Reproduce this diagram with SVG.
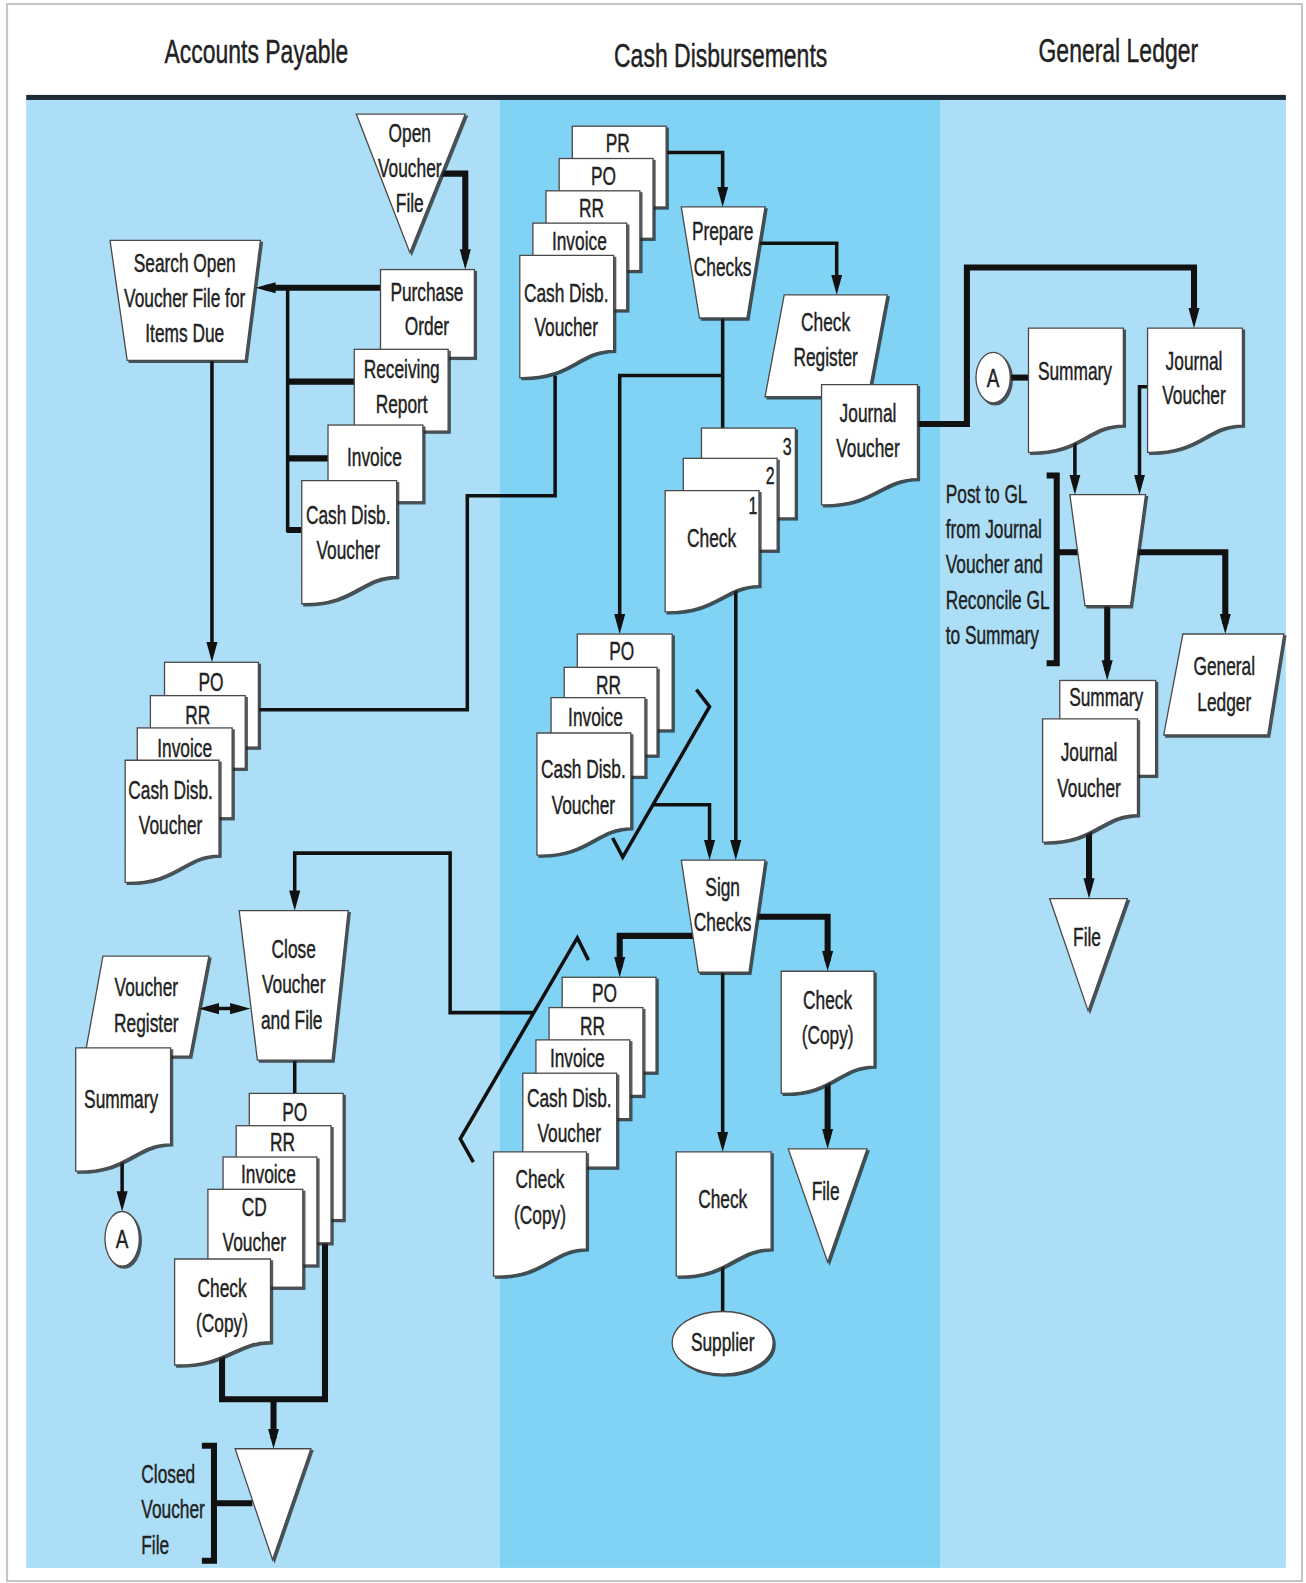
<svg xmlns="http://www.w3.org/2000/svg" width="1306" height="1583" viewBox="0 0 1306 1583">
<style>
.lane-a{fill:#acdff7}
.lane-b{fill:#80d3f5}
.sh{fill:#fff;stroke:#4a4a4a;stroke-width:1.3;filter:url(#ds)}
.ln{fill:none;stroke:#111;stroke-width:3.5}
.tk{fill:none;stroke:#111;stroke-width:6}
.ar{marker-end:url(#ah)}
.da{marker-start:url(#ah);marker-end:url(#ah)}
.t{font-family:"Liberation Sans",Arial,Helvetica,sans-serif;font-size:26px;fill:#222;stroke:#222;stroke-width:0.45;text-anchor:middle}
.tl{text-anchor:start}
.hd{font-size:33px;fill:#222}
.num{font-size:24px}
</style>
<defs>
<marker id="ah" viewBox="0 0 20 12" refX="10" refY="6" markerWidth="20" markerHeight="12" markerUnits="userSpaceOnUse" orient="auto-start-reverse">
<path d="M0 0.5 L20 6 L0 11.5 Z" fill="#111"/>
</marker>
<filter id="ds" x="-10%" y="-10%" width="130%" height="130%">
<feDropShadow dx="2" dy="2" stdDeviation="0.6" flood-color="#222" flood-opacity="0.75"/>
</filter>
</defs>

<rect width="1306" height="1583" fill="#fff"/>
<g transform="scale(1.0093 1.0096)">
<!-- page frame -->
<rect x="7" y="4" width="1283" height="1562" fill="#fff" stroke="#c4c4c4" stroke-width="2"/>
<!-- swim lanes -->
<rect class="lane-a" x="26" y="98" width="469" height="1455"/>
<rect class="lane-b" x="495" y="98" width="437" height="1455"/>
<rect class="lane-a" x="932" y="98" width="342" height="1455"/>
<rect x="26" y="94" width="1248" height="5" fill="#1d2935"/>
<text class="t hd" transform="translate(254 62) scale(.69 1)">Accounts Payable</text>
<text class="t hd" transform="translate(714 66) scale(.69 1)">Cash Disbursements</text>
<text class="t hd" transform="translate(1108 61) scale(.69 1)">General Ledger</text>

<g id="connectors">
<path class="tk ar" d="M437 172 H461 V257"/>
<path class="tk ar" d="M377 285 H263"/>
<path class="ln" d="M285 285 V527"/>
<path class="tk" d="M284 378 H351 M284 454 H325 M284 525 H299"/>
<path class="ln ar" d="M210 357 V646"/>
<path class="ln" d="M256 703 H463 V491 H550 V372"/>
<path class="ln ar" d="M529 1003 H446 V845 H292 V892"/>
<path class="ln da" d="M207 999 H238"/>
<path class="ln ar" d="M121 1147 V1190"/>
<path class="ln" d="M292 1050 V1084"/>
<path class="tk" d="M220 1342 V1386 H322 V1231"/>
<path class="tk ar" d="M271 1386 V1425"/>
<path class="tk" d="M200 1432 H212 V1546 H200 M212 1489 H250"/>
<path class="ln ar" d="M660 151 H716 V195"/>
<path class="ln ar" d="M752 241 H829 V282"/>
<path class="ln" d="M716 315 V425"/>
<path class="ln ar" d="M716 372 H614 V618"/>
<path class="ln ar" d="M729 582 V842"/>
<path class="ln" d="M690 683 L703 700 L617 849 L607 830"/>
<path class="ln ar" d="M647 797 H703 V842"/>
<path class="tk ar" d="M687 927 H614 V958"/>
<path class="tk ar" d="M750 908 H820 V952"/>
<path class="ln ar" d="M716 963 V1131"/>
<path class="tk ar" d="M820 1070 V1128"/>
<path class="ln" d="M716 1250 V1300"/>
<path class="ln" d="M583 951 L572 929 L456 1128 L469 1151"/>
<path class="tk ar" d="M909 420 H958 V265 H1183 V315"/>
<path class="tk" d="M1001 374 H1020"/>
<path class="ln ar" d="M1065 435 V480"/>
<path class="ln ar" d="M1137 383 H1129 V480"/>
<path class="tk" d="M1037 471 H1047 V657 H1037 M1047 547 H1068"/>
<path class="tk ar" d="M1127 547 H1214 V618"/>
<path class="tk ar" d="M1097 600 V664"/>
<path class="tk ar" d="M1079 821 V880"/>
</g>

<!-- Accounts Payable -->
<g id="open-voucher-file"><path class="sh" d="M353 113 H461 L406 250 Z"/>
<text class="t" transform="translate(406 141) scale(.66 1)"><tspan x="0">Open</tspan><tspan x="0" dy="34.5">Voucher</tspan><tspan x="0" dy="34.5">File</tspan></text></g>

<g id="search-open-voucher-file"><path class="sh" d="M109 238 H258 L243 357 H126 Z"/>
<text class="t" transform="translate(183 269) scale(.66 1)"><tspan x="0">Search Open</tspan><tspan x="0" dy="35">Voucher File for</tspan><tspan x="0" dy="35">Items Due</tspan></text></g>

<g id="purchase-order"><rect class="sh" x="377" y="267" width="93" height="87"/>
<text class="t" transform="translate(423 298) scale(.66 1)"><tspan x="0">Purchase</tspan><tspan x="0" dy="34">Order</tspan></text></g>
<g id="receiving-report"><rect class="sh" x="351" y="346" width="93" height="81"/>
<text class="t" transform="translate(398 374) scale(.66 1)"><tspan x="0">Receiving</tspan><tspan x="0" dy="35">Report</tspan></text></g>
<g id="invoice-1"><rect class="sh" x="325" y="421" width="94" height="76"/>
<text class="t" transform="translate(371 462) scale(.66 1)">Invoice</text></g>
<g id="cash-disb-voucher-1"><path class="sh" d="M299 476 H393 V571 C357 571 351 599 299 598 Z"/>
<text class="t" transform="translate(345 519) scale(.66 1)"><tspan x="0">Cash Disb.</tspan><tspan x="0" dy="35">Voucher</tspan></text></g>

<g id="po-2"><rect class="sh" x="163" y="656" width="93" height="84"/>
<text class="t" transform="translate(209 684) scale(.66 1)">PO</text></g>
<g id="rr-2"><rect class="sh" x="149" y="689" width="94" height="72"/>
<text class="t" transform="translate(196 717) scale(.66 1)">RR</text></g>
<g id="invoice-2"><rect class="sh" x="136" y="721" width="94" height="89"/>
<text class="t" transform="translate(183 750) scale(.66 1)">Invoice</text></g>
<g id="cash-disb-voucher-2"><path class="sh" d="M124 753 H217 V847 C182 847 175 875 124 874 Z"/>
<text class="t" transform="translate(169 791) scale(.66 1)"><tspan x="0">Cash Disb.</tspan><tspan x="0" dy="35">Voucher</tspan></text></g>

<g id="close-voucher-and-file"><path class="sh" d="M237 902 H345 L329 1050 H255 Z"/>
<text class="t" transform="translate(291 949) scale(.66 1)"><tspan x="0">Close</tspan><tspan x="0" dy="35">Voucher</tspan><tspan x="-3" dy="35">and File</tspan></text></g>

<g id="voucher-register"><path class="sh" d="M102 947 H207 L188 1046 H84 Z"/>
<text class="t" transform="translate(145 987) scale(.66 1)"><tspan x="0">Voucher</tspan><tspan x="0" dy="35">Register</tspan></text></g>
<g id="summary-ap"><path class="sh" d="M75 1038 H169 V1133 C133 1133 127 1161 75 1160 Z"/>
<text class="t" transform="translate(120 1097) scale(.66 1)">Summary</text></g>
<g id="connector-a-ap"><ellipse class="sh" cx="121" cy="1227" rx="17" ry="27"/>
<text class="t" transform="translate(121 1236) scale(.72 1)">A</text></g>

<g id="po-3"><rect class="sh" x="247" y="1083" width="93" height="125"/>
<text class="t" transform="translate(292 1110) scale(.66 1)">PO</text></g>
<g id="rr-3"><rect class="sh" x="234" y="1115" width="94" height="116"/>
<text class="t" transform="translate(280 1140) scale(.66 1)">RR</text></g>
<g id="invoice-3"><rect class="sh" x="221" y="1146" width="93" height="107"/>
<text class="t" transform="translate(266 1172) scale(.66 1)">Invoice</text></g>
<g id="cd-voucher-3"><rect class="sh" x="206" y="1178" width="94" height="97"/>
<text class="t" transform="translate(252 1204) scale(.66 1)"><tspan x="0">CD</tspan><tspan x="0" dy="35">Voucher</tspan></text></g>
<g id="check-copy-3"><path class="sh" d="M173 1247 H268 V1329 C232 1329 225 1353 173 1352 Z"/>
<text class="t" transform="translate(220 1285) scale(.66 1)"><tspan x="0">Check</tspan><tspan x="0" dy="34">(Copy)</tspan></text></g>

<g id="closed-voucher-file"><path class="sh" d="M233 1435 H308 L270 1545 Z"/>
<text class="t tl" transform="translate(140 1469) scale(.66 1)"><tspan x="0">Closed</tspan><tspan x="0" dy="35">Voucher</tspan><tspan x="0" dy="35">File</tspan></text></g>

<!-- Cash Disbursements -->
<g id="pr-cd"><rect class="sh" x="567" y="125" width="93" height="80"/>
<text class="t" transform="translate(612 151) scale(.66 1)">PR</text></g>
<g id="po-cd"><rect class="sh" x="554" y="157" width="93" height="79"/>
<text class="t" transform="translate(598 183) scale(.66 1)">PO</text></g>
<g id="rr-cd"><rect class="sh" x="541" y="189" width="93" height="79"/>
<text class="t" transform="translate(586 215) scale(.66 1)">RR</text></g>
<g id="invoice-cd"><rect class="sh" x="528" y="221" width="93" height="86"/>
<text class="t" transform="translate(574 248) scale(.66 1)">Invoice</text></g>
<g id="cash-disb-voucher-cd"><path class="sh" d="M515 253 H608 V347 C573 347 566 375 515 374 Z"/>
<text class="t" transform="translate(561 299) scale(.66 1)"><tspan x="0">Cash Disb.</tspan><tspan x="0" dy="34">Voucher</tspan></text></g>

<g id="prepare-checks"><path class="sh" d="M675 205 H758 L740 315 H693 Z"/>
<text class="t" transform="translate(716 238) scale(.66 1)"><tspan x="0">Prepare</tspan><tspan x="0" dy="35">Checks</tspan></text></g>

<g id="check-register"><path class="sh" d="M777 292 H879 L860 393 H758 Z"/>
<text class="t" transform="translate(818 328) scale(.66 1)"><tspan x="0">Check</tspan><tspan x="0" dy="35">Register</tspan></text></g>
<g id="journal-voucher-cd"><path class="sh" d="M814 381 H909 V474 C873 474 866 501 814 500 Z"/>
<text class="t" transform="translate(860 418) scale(.66 1)"><tspan x="0">Journal</tspan><tspan x="0" dy="35">Voucher</tspan></text></g>

<g id="check-3"><rect class="sh" x="695" y="424" width="93" height="89"/>
<text class="t num" transform="translate(780 451) scale(.66 1)">3</text></g>
<g id="check-2"><rect class="sh" x="677" y="454" width="93" height="91"/>
<text class="t num" transform="translate(763 479) scale(.66 1)">2</text></g>
<g id="check-1"><path class="sh" d="M659 486 H752 V580 C717 580 710 607 659 606 Z"/>
<text class="t num" transform="translate(746 509) scale(.66 1)">1</text>
<text class="t" transform="translate(705 542) scale(.66 1)">Check</text></g>

<g id="po-cd-2"><rect class="sh" x="572" y="628" width="94" height="95"/>
<text class="t" transform="translate(616 654) scale(.66 1)">PO</text></g>
<g id="rr-cd-2"><rect class="sh" x="559" y="661" width="92" height="87"/>
<text class="t" transform="translate(603 687) scale(.66 1)">RR</text></g>
<g id="invoice-cd-2"><rect class="sh" x="546" y="691" width="93" height="78"/>
<text class="t" transform="translate(590 719) scale(.66 1)">Invoice</text></g>
<g id="cash-disb-voucher-cd-2"><path class="sh" d="M532 726 H625 V820 C590 820 583 848 532 847 Z"/>
<text class="t" transform="translate(578 771) scale(.66 1)"><tspan x="0">Cash Disb.</tspan><tspan x="0" dy="35">Voucher</tspan></text></g>

<g id="sign-checks"><path class="sh" d="M675 852 H758 L742 963 H692 Z"/>
<text class="t" transform="translate(716 887) scale(.66 1)"><tspan x="0">Sign</tspan><tspan x="0" dy="35">Checks</tspan></text></g>

<g id="po-cd-3"><rect class="sh" x="557" y="968" width="93" height="94"/>
<text class="t" transform="translate(599 992) scale(.66 1)">PO</text></g>
<g id="rr-cd-3"><rect class="sh" x="544" y="998" width="93" height="87"/>
<text class="t" transform="translate(587 1025) scale(.66 1)">RR</text></g>
<g id="invoice-cd-3"><rect class="sh" x="531" y="1030" width="93" height="78"/>
<text class="t" transform="translate(572 1057) scale(.66 1)">Invoice</text></g>
<g id="cash-disb-voucher-cd-3"><rect class="sh" x="518" y="1063" width="93" height="93"/>
<text class="t" transform="translate(564 1096) scale(.66 1)"><tspan x="0">Cash Disb.</tspan><tspan x="0" dy="35">Voucher</tspan></text></g>
<g id="check-copy-cd-3"><path class="sh" d="M489 1141 H581 V1237 C546 1237 540 1265 489 1264 Z"/>
<text class="t" transform="translate(535 1177) scale(.66 1)"><tspan x="0">Check</tspan><tspan x="0" dy="35">(Copy)</tspan></text></g>

<g id="check-copy-file"><path class="sh" d="M774 962 H866 V1056 C831 1056 825 1084 774 1083 Z"/>
<text class="t" transform="translate(820 999) scale(.66 1)"><tspan x="0">Check</tspan><tspan x="0" dy="35">(Copy)</tspan></text></g>
<g id="file-cd"><path class="sh" d="M781 1138 H859 L820 1250 Z"/>
<text class="t" transform="translate(818 1189) scale(.66 1)">File</text></g>

<g id="check-out"><path class="sh" d="M670 1141 H764 V1237 C728 1237 722 1265 670 1264 Z"/>
<text class="t" transform="translate(716 1197) scale(.66 1)">Check</text></g>
<g id="supplier"><ellipse class="sh" cx="716" cy="1330" rx="50" ry="31"/>
<text class="t" transform="translate(716 1338) scale(.66 1)">Supplier</text></g>

<!-- General Ledger -->
<g id="connector-a-gl"><ellipse class="sh" cx="984" cy="374" rx="17" ry="25"/>
<text class="t" transform="translate(984 383) scale(.72 1)">A</text></g>
<g id="summary-gl"><path class="sh" d="M1019 325 H1113 V421 C1077 421 1071 449 1019 448 Z"/>
<text class="t" transform="translate(1065 376) scale(.66 1)">Summary</text></g>
<g id="journal-voucher-gl"><path class="sh" d="M1137 325 H1231 V421 C1195 421 1189 449 1137 448 Z"/>
<text class="t" transform="translate(1183 366) scale(.66 1)"><tspan x="0">Journal</tspan><tspan x="0" dy="34">Voucher</tspan></text></g>

<g id="post-to-gl"><path class="sh" d="M1060 490 H1135 L1120 600 H1075 Z"/>
<text class="t tl" transform="translate(937 498) scale(.66 1)"><tspan x="0">Post to GL</tspan><tspan x="0" dy="35">from Journal</tspan><tspan x="0" dy="35">Voucher and</tspan><tspan x="0" dy="35">Reconcile GL</tspan><tspan x="0" dy="35">to Summary</tspan></text></g>

<g id="general-ledger"><path class="sh" d="M1172 628 H1272 L1256 728 H1153 Z"/>
<text class="t" transform="translate(1213 669) scale(.66 1)"><tspan x="0">General</tspan><tspan x="0" dy="35">Ledger</tspan></text></g>

<g id="summary-gl-2"><rect class="sh" x="1050" y="674" width="95" height="94"/>
<text class="t" transform="translate(1096 699) scale(.66 1)">Summary</text></g>
<g id="journal-voucher-gl-2"><path class="sh" d="M1033 712 H1127 V807 C1091 807 1085 835 1033 834 Z"/>
<text class="t" transform="translate(1079 754) scale(.66 1)"><tspan x="0">Journal</tspan><tspan x="0" dy="35">Voucher</tspan></text></g>
<g id="file-gl"><path class="sh" d="M1040 890 H1117 L1078 1001 Z"/>
<text class="t" transform="translate(1077 937) scale(.66 1)">File</text></g>
</g>
</svg>
